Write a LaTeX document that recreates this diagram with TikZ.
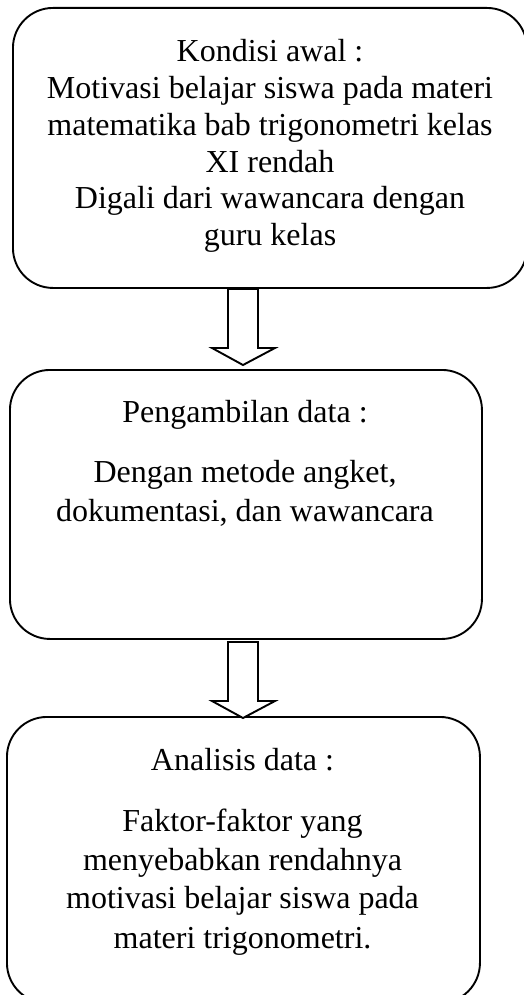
\documentclass[tikz,border=0pt]{standalone}
\usepackage{fontspec}
\setmainfont{Liberation Serif}
\begin{document}
\begin{tikzpicture}[x=1pt,y=-1pt,
  box/.style={draw=black,line width=1.9pt,rounded corners=40pt,inner sep=0pt,anchor=north west},
  txt/.style={anchor=base,inner sep=0pt,font=\fontsize{32}{37}\selectfont},
  arr/.style={draw=black,line width=1.9pt,line join=miter,fill=white}]
\useasboundingbox (0,0) rectangle (523,995);
% boxes
\node[box,minimum width=514pt,minimum height=280pt] (b1) at (12,7) {};
\node[box,minimum width=472pt,minimum height=269pt] (b2) at (9,369) {};
\node[box,minimum width=473pt,minimum height=286pt] (b3) at (6,716) {};
% box 1 text
\node[txt] (t11) at (270,61.7) {Kondisi awal :};
\node[txt] (t12) at (270,98.5) {Motivasi belajar siswa pada materi};
\node[txt] (t13) at (270,135.3) {matematika bab trigonometri kelas};
\node[txt] (t14) at (270,172.1) {XI rendah};
\node[txt] (t15) at (270,208.9) {Digali dari wawancara dengan};
\node[txt] (t16) at (270,245.7) {guru kelas};
% box 2 text
\node[txt] (t21) at (245,422.3) {Pengambilan data :};
\node[txt] (t22) at (245,482.3) {Dengan metode angket,};
\node[txt] (t23) at (245,521.3) {dokumentasi, dan wawancara};
% box 3 text
\node[txt] (t31) at (242.5,770.7) {Analisis data :};
\node[txt] (t32) at (242.5,831.7) {Faktor-faktor yang};
\node[txt] (t33) at (242.5,870) {menyebabkan rendahnya};
\node[txt] (t34) at (242.5,908.8) {motivasi belajar siswa pada};
\node[txt] (t35) at (242.5,948.3) {materi trigonometri.};
% block arrows
\coordinate (a1) at (243,289);
\coordinate (a2) at (243,642);
\draw[arr] (a1) ++(-15,0) -- ++(30,0) -- ++(0,59) -- ++(17,0) -- ++(-32,17) -- ++(-31,-17) -- ++(16,0) -- cycle;
\draw[arr] (a2) ++(-15,0) -- ++(30,0) -- ++(0,59) -- ++(17,0) -- ++(-32,17) -- ++(-31,-17) -- ++(16,0) -- cycle;
\end{tikzpicture}
\end{document}
